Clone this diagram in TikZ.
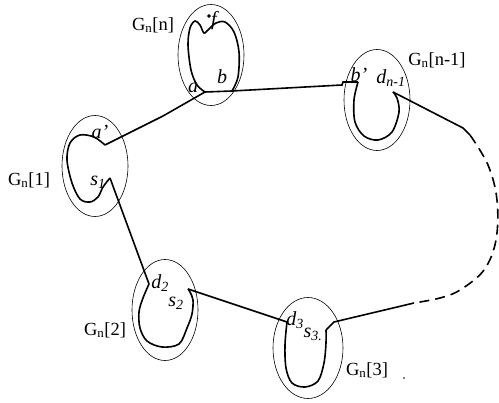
\documentclass[tikz,border=0pt]{standalone}
\usepackage{fontspec}
\setmainfont{Liberation Serif}
\usetikzlibrary{shapes.geometric,positioning}

\newcommand{\vsub}[2]{\textit{#1}\textsubscript{\textit{#2}}}
\newcommand{\gname}[1]{G\textsubscript{n}[#1]}

\begin{document}
\begin{tikzpicture}[x=1pt, y=-1pt,
  part/.style={ellipse, draw, line width=0.6pt, minimum width=66pt, minimum height=101pt, inner sep=0pt},
  tour/.style={line width=1.6pt, line join=miter},
  walk/.style={line width=1.6pt, smooth, tension=0.55},
  vlab/.style={font=\fontsize{20}{20}\selectfont\itshape, inner sep=0pt},
  glab/.style={font=\fontsize{18.5}{18.5}\selectfont, inner sep=0pt}]
  \useasboundingbox (0,0) rectangle (499,403);

  % Subgraph G_n[n]
  \node[part] (Gn) at (211,55) {};
  \node[glab] (Gnlab) at (153,25) {\gname{n}};
  \coordinate (a) at (205,92);
  \coordinate (b) at (232,91);
  \coordinate (f) at (209,16);
  \draw[walk] plot coordinates {(205,92) (197,85) (191,70) (188,45) (190,28) (195,21) (200,25) (204,33) (209,29) (216,23) (225,22) (234,32) (239,52) (238,77) (232,91)};
  \filldraw (f) circle (1.6pt);
  \node[vlab] (flab) at (214,21) {f};
  \node[vlab] (alab) at (193,88) {a};
  \node[vlab] (blab) at (222,77) {b};

  % Subgraph G_n[n-1]
  \node[part] (Gm) at (377,100) {};
  \node[glab] (Gmlab) at (437,60) {\gname{n-1}};
  \coordinate (bp) at (358,82);
  \coordinate (dm) at (393,92);
  \draw[walk] plot coordinates {(358,82) (354,100) (355,122) (364,136) (378,140) (392,132) (399,112) (397,98) (393,92)};
  \node[vlab] (bplab) at (359,75) {b'};
  \node[vlab] (dmlab) at (391,78) {\vsub{d}{n-1}};

  % Subgraph G_n[1]
  \node[part] (G1) at (95,166) {};
  \node[glab] (G1lab) at (29,180) {\gname{1}};
  \coordinate (ap) at (105,145);
  \coordinate (s1) at (110,178);
  \draw[walk] plot coordinates {(105,145) (94,137) (80,135) (70,143) (67,160) (72,183) (80,199) (90,202) (98,197) (103,187) (110,178)};
  \node[vlab] (aplab) at (100,132) {a'};
  \node[vlab] (s1lab) at (98,182) {\vsub{s}{1}};

  % Subgraph G_n[2]
  \node[part] (G2) at (165,310) {};
  \node[glab] (G2lab) at (105,330) {\gname{2}};
  \coordinate (d2) at (149,284);
  \coordinate (s2) at (188,289);
  \draw[walk] plot coordinates {(149,284) (143,298) (139,312) (140,328) (147,341) (162,347) (179,344) (187,328) (192,314) (193,300) (190,292) (188,289)};
  \node[vlab] (d2lab) at (160,283) {\vsub{d}{2}};
  \node[vlab] (s2lab) at (176,303) {\vsub{s}{2}};

  % Subgraph G_n[3]
  \node[part, minimum width=70pt] (G3) at (308,348) {};
  \node[glab] (G3lab) at (367,370) {\gname{3}};
  \coordinate (d3) at (287,322);
  \coordinate (s3) at (326,330);
  \draw[walk] plot coordinates {(287,322) (285,345) (286,368) (292,383) (305,387) (318,381) (324,363) (326,343) (326,330)};
  \node[vlab] (d3lab) at (295,320) {\vsub{d}{3}};
  \node[vlab] (s3lab) at (313,334) {\vsub{s}{3.}};
  \fill (404,378) circle (0.8pt);

  % the tour through the subgraphs
  \coordinate (k1) at (163,116);
  \coordinate (k2) at (342,85);
  \coordinate (k3) at (343,82);
  \coordinate (k4) at (463,128);
  \coordinate (k5) at (470,135);
  \coordinate (k6) at (414,303);
  \coordinate (k7) at (334,322);
  \draw[tour] (ap) -- (k1) -- (a) -- (b) -- (k2) -- (k3) -- (bp);
  \draw[tour] (dm) -- (k4) -- (k5);
  \draw[tour, dash pattern=on 10pt off 6pt] plot[smooth, tension=0.6] coordinates {(470,135) (488,165) (497,200) (496,240) (484,270) (460,290) (440,298) (414,303)};
  \draw[tour] (k6) -- (k7) -- (s3);
  \draw[tour] (s1) -- (d2);
  \draw[tour] (s2) -- (d3);
\end{tikzpicture}
\end{document}
